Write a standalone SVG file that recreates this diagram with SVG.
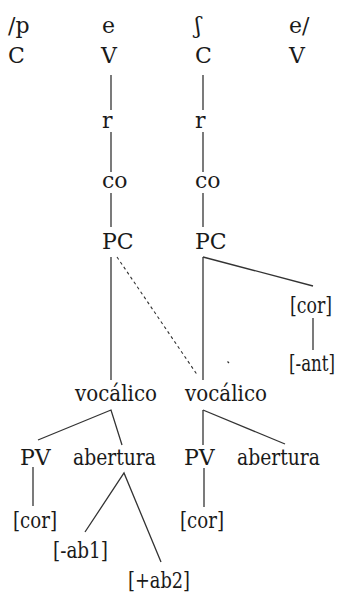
<svg xmlns="http://www.w3.org/2000/svg" width="341" height="593" viewBox="0 0 341 593">
<style>
.t text{font-size:22px;fill:#1a1a1a}
.l{stroke:#333;stroke-width:1.3;fill:none}
.d{stroke:#333;stroke-width:1.1;stroke-dasharray:3 3;fill:none}
</style>
<rect width="341" height="593" fill="#fff"/>
<g id="connectors">
<line class="l" x1="111" y1="75" x2="111" y2="110"/>
<line class="l" x1="111" y1="132" x2="111" y2="172"/>
<line class="l" x1="111" y1="193" x2="111" y2="227"/>
<line class="l" x1="111" y1="257" x2="111" y2="380"/>
<line class="l" x1="203" y1="75" x2="203" y2="110"/>
<line class="l" x1="203" y1="132" x2="203" y2="172"/>
<line class="l" x1="203" y1="193" x2="203" y2="227"/>
<line class="l" x1="203" y1="257" x2="203" y2="380"/>
<polyline class="l" points="203,257 313,286"/>
<line class="l" x1="313" y1="318" x2="313" y2="350"/>
<line class="d" x1="117" y1="257" x2="198" y2="376"/>
<line class="l" x1="227.5" y1="361.5" x2="229" y2="363" stroke-width="1"/>
<polyline class="l" points="38,440 111,410 122,445"/>
<line class="l" x1="203" y1="410" x2="203" y2="445"/>
<line class="l" x1="203" y1="410" x2="285" y2="444"/>
<line class="l" x1="33" y1="467" x2="33" y2="506"/>
<polyline class="l" points="85,532 124,473 161,562"/>
<line class="l" x1="204" y1="468" x2="204" y2="507"/>
</g>
<g class="t" font-family="'DejaVu Serif', serif">
<g id="seg-p"><text x="8" y="33">/p</text><text x="8" y="63">C</text></g>
<g id="seg-e1"><text x="102" y="33">e</text><text x="101" y="63">V</text></g>
<g id="seg-esh"><text x="195" y="33">ʃ</text><text x="195" y="63">C</text></g>
<g id="seg-e2"><text x="289" y="33">e/</text><text x="289" y="63">V</text></g>
<g id="r1"><text x="102" y="128">r</text></g>
<g id="r2"><text x="195" y="128">r</text></g>
<g id="co1"><text x="102" y="188">co</text></g>
<g id="co2"><text x="195" y="188">co</text></g>
<g id="pc1"><text x="102" y="249">PC</text></g>
<g id="pc2"><text x="195" y="249">PC</text></g>
<g id="cor-r"><text transform="translate(290,313) scale(0.79,1)" x="0" y="0">[cor]</text></g>
<g id="ant"><text transform="translate(289,371) scale(0.76,1)" x="0" y="0">[-ant]</text></g>
<g id="voc1"><text x="75" y="401" textLength="82" lengthAdjust="spacingAndGlyphs">vocálico</text></g>
<g id="voc2"><text x="185" y="401" textLength="82" lengthAdjust="spacingAndGlyphs">vocálico</text></g>
<g id="pv1"><text x="20" y="465">PV</text></g>
<g id="ab1"><text x="73" y="465" textLength="83" lengthAdjust="spacingAndGlyphs">abertura</text></g>
<g id="pv2"><text x="184" y="465">PV</text></g>
<g id="ab2"><text x="237" y="465" textLength="83" lengthAdjust="spacingAndGlyphs">abertura</text></g>
<g id="cor1"><text x="13" y="528" textLength="44" lengthAdjust="spacingAndGlyphs">[cor]</text></g>
<g id="cor2"><text x="180" y="528" textLength="44" lengthAdjust="spacingAndGlyphs">[cor]</text></g>
<g id="mab1"><text x="53" y="558" textLength="55" lengthAdjust="spacingAndGlyphs">[-ab1]</text></g>
<g id="pab2"><text x="128" y="588" textLength="62" lengthAdjust="spacingAndGlyphs">[+ab2]</text></g>
</g>
</svg>
